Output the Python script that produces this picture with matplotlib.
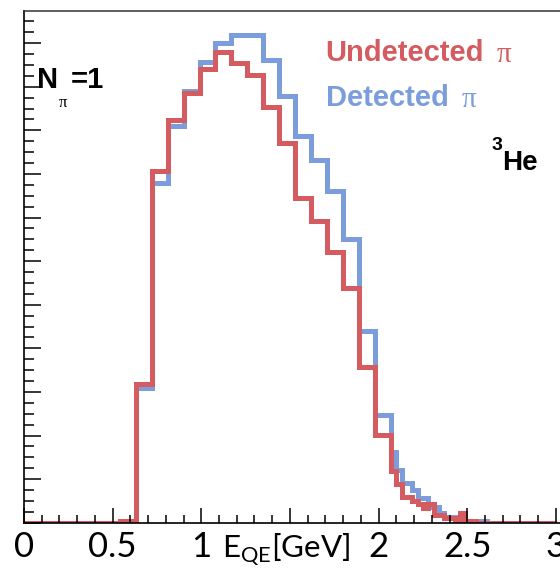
import numpy as np
import matplotlib.pyplot as plt

# E_QE spectrum for single-pion events on 3He, detected vs undetected pion
# coarse bins (0.09 GeV) up to 2.07 GeV, fine bins (0.03 GeV) above
coarse_edges = np.round(np.arange(0, 2.07 + 1e-9, 0.09), 2)
fine_edges = np.round(np.arange(2.10, 3.0 + 1e-9, 0.03), 2)
edges = np.concatenate([coarse_edges, fine_edges])

undetected_coarse = [0, 0, 0, 0, 0, 0, 0.04, 3.18, 8.07, 9.24, 9.85, 10.41,
                     10.80, 10.54, 10.27, 9.54, 8.72, 7.45, 6.93, 6.20, 5.38,
                     3.56, 2.01]
undetected_fine = [1.19, 0.89, 0.59, 0.59, 0.50, 0.43, 0.34, 0.43, 0.18, 0.18,
                   0.11, 0.10, 0.05, 0.22, 0.05, 0.04, 0, 0, 0, 0, 0, 0, 0, 0,
                   0, 0, 0, 0, 0, 0, 0]
detected_coarse = [0, 0, 0, 0, 0, 0, 0.01, 3.09, 7.78, 9.10, 9.91, 10.57,
                   11.00, 11.19, 11.19, 10.61, 9.79, 8.87, 8.32, 7.61, 6.50,
                   4.40, 2.47]
detected_fine = [1.63, 1.22, 0.90, 0.90, 0.75, 0.56, 0.56, 0.37, 0.37, 0.22,
                 0.12, 0.12, 0.08, 0.06, 0.02, 0.01, 0.03, 0.04, 0, 0, 0, 0,
                 0, 0, 0, 0, 0, 0, 0, 0, 0]

undetected = np.array(undetected_coarse + undetected_fine)
detected = np.array(detected_coarse + detected_fine)

xtick_pos = [0, 0.5, 1, 1.5, 2, 2.5, 3]
xtick_text = ['0', '0.5', '1', '', '2', '2.5', '3']

RED = '#d45c60'
BLUE = '#7b9ddb'

plt.rcParams['mathtext.fontset'] = 'custom'
plt.rcParams['mathtext.rm'] = 'Lato'

W, H = 560, 571
fig = plt.figure(figsize=(W / 100, H / 100), dpi=100)
x0, y0, y1 = 24, 522.7, 11
ax = fig.add_axes([x0 / W, 1 - y0 / H, (W - x0) / W, (y0 - y1) / H])

ax.stairs(detected, edges, color=BLUE, lw=3.6, baseline=None)
ax.stairs(undetected, edges, color=RED, lw=3.6, baseline=None)

ax.set_xlim(0, (W - x0) / 177.3)
ax.set_ylim(0, (y0 - y1) / 43.6)

ax.set_xticks(xtick_pos)
ax.set_xticklabels(xtick_text, fontsize=25, family='Lato')
ax.set_xticks(np.arange(0, 3.01, 0.1), minor=True)
ax.set_yticks(np.arange(0, 12, 1))
ax.set_yticks(np.arange(0, 11.75, 0.25), minor=True)
ax.set_yticklabels([])
ax.tick_params(axis='x', which='major', direction='in', length=11, width=1.1, pad=6)
ax.tick_params(axis='x', which='minor', direction='in', length=5.5, width=1.1)
ax.tick_params(axis='y', which='major', direction='in', length=12, width=1.1)
ax.tick_params(axis='y', which='minor', direction='in', length=7, width=1.1)

for side in ['left', 'bottom']:
    ax.spines[side].set_linewidth(1.2)
ax.spines['top'].set_color('#333333')
ax.spines['top'].set_linewidth(1.1)
ax.spines['right'].set_visible(False)


def px(x, y):
    return x / W, 1 - y / H


fig.text(*px(286, 557), r'E$_{\mathrm{QE}}$[GeV]', fontsize=22.5, family='Lato',
         ha='center', va='baseline')

# N_pi = 1 label
fig.text(*px(37, 88), 'N', fontsize=21, weight='bold', family='Liberation Sans', va='baseline')
fig.text(*px(59, 107), 'π', fontsize=12, family='Liberation Serif', va='baseline')
fig.text(*px(71, 88), '=1', fontsize=21, weight='bold', family='Liberation Sans', va='baseline')

# legend entries
fig.text(*px(325, 61), 'Undetected', fontsize=21, weight='bold', color=RED,
         family='Liberation Sans', va='baseline')
fig.text(*px(497, 62), 'π', fontsize=21, color=RED, family='Liberation Serif', va='baseline')
fig.text(*px(326, 106), 'Detected', fontsize=21, weight='bold', color=BLUE,
         family='Liberation Sans', va='baseline')
fig.text(*px(462, 107), 'π', fontsize=21, color=BLUE, family='Liberation Serif', va='baseline')

# target nucleus
fig.text(*px(492, 150), '3', fontsize=14, weight='bold', family='Liberation Sans', va='baseline')
fig.text(*px(502, 170), 'He', fontsize=20, weight='bold', family='Liberation Sans', va='baseline')

fig.savefig('out.png', dpi=100)
